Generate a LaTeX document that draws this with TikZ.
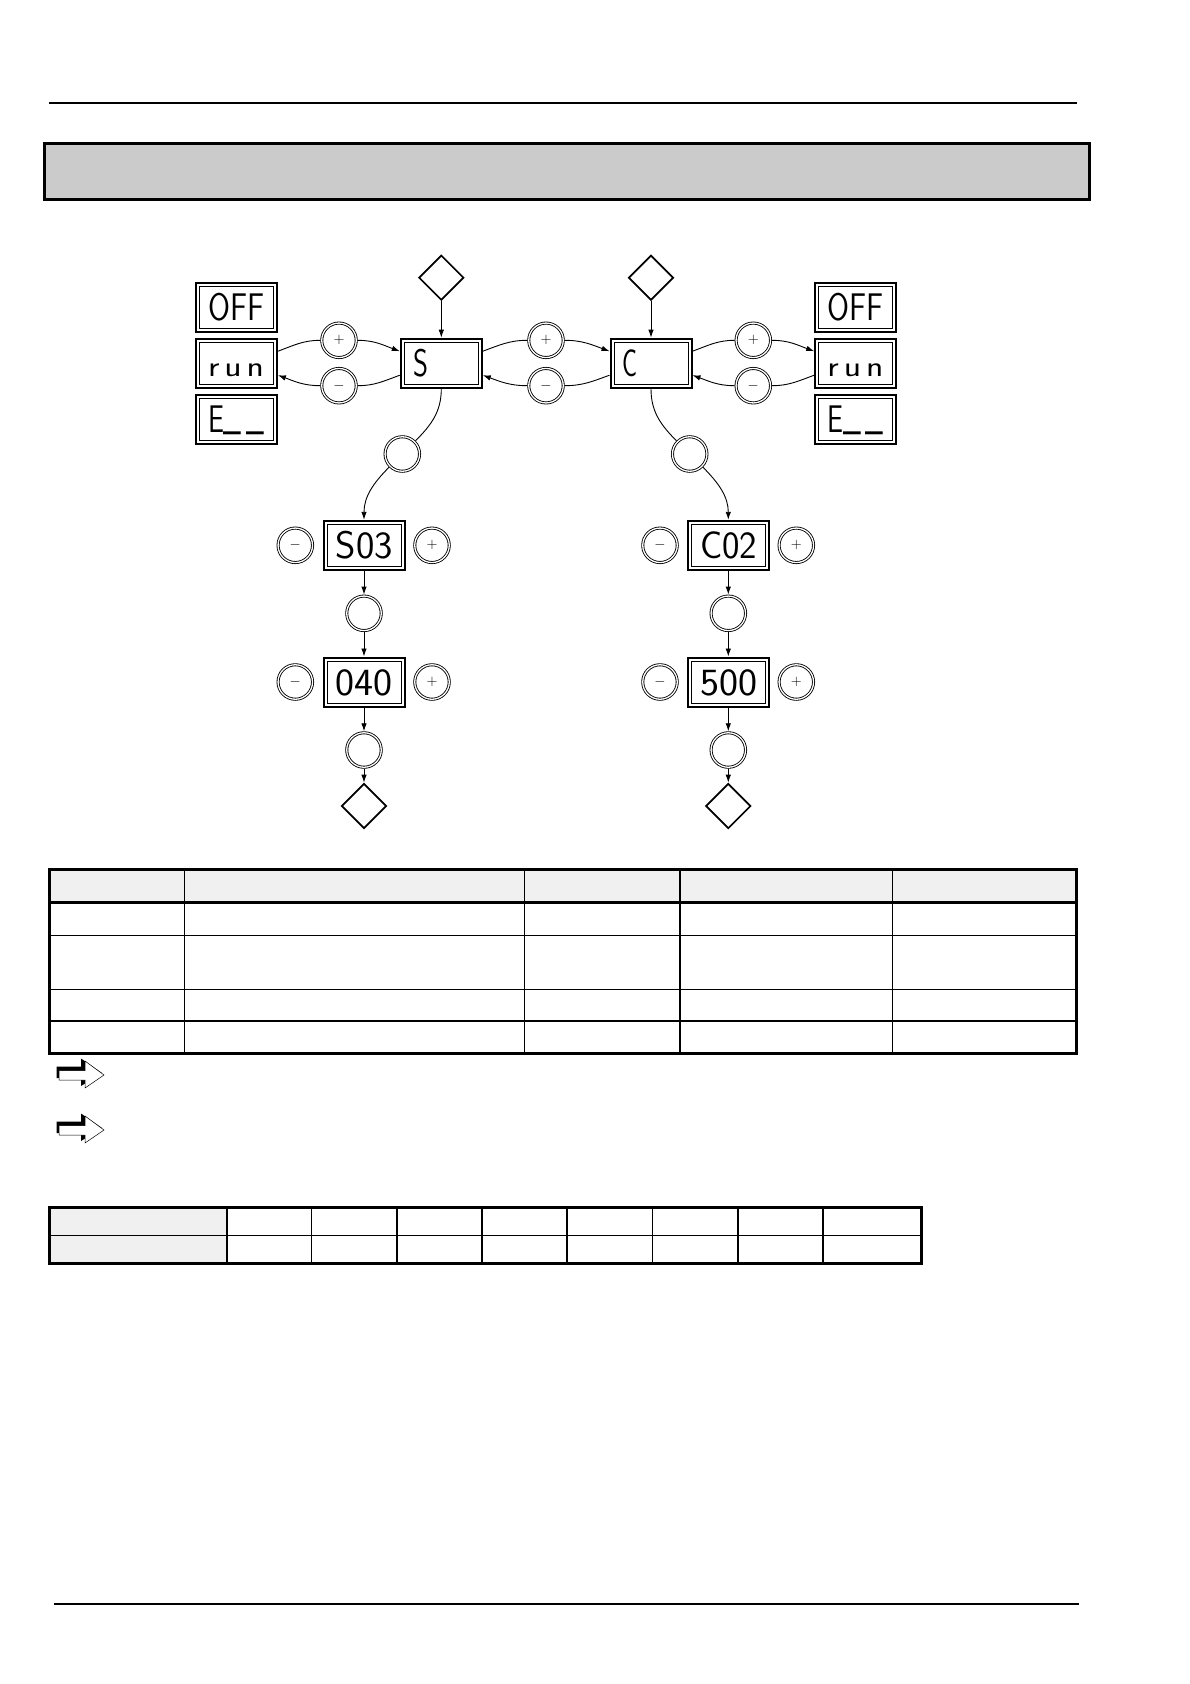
\documentclass[tikz,border=0pt]{standalone}
\usepackage{graphicx}
\usetikzlibrary{arrows.meta,shapes.geometric}

\definecolor{bannergray}{HTML}{CBCBCB}
\definecolor{headgray}{HTML}{F0F0F0}

\tikzset{
  lcdbox/.style={draw,line width=2pt,minimum width=81pt,minimum height=49pt,inner sep=0pt,outer sep=1pt},
  lcdtext/.style={anchor=base west,inner sep=0pt,font=\sffamily\fontsize{38.5}{38.5}\selectfont},
  keyring/.style={circle,draw,line width=0.85pt,double,double distance=1.3pt,minimum size=34.5pt,inner sep=0pt,outer sep=1.5pt,font=\fontsize{15}{15}\selectfont},
  gate/.style={diamond,draw,line width=1.7pt,minimum width=45pt,minimum height=45pt,inner sep=0pt,outer sep=0.85pt},
  conn/.style={line width=0.9pt},
  connarr/.style={conn,-{Latex[length=8pt,width=5.5pt]}},
}

\newcommand{\lcdshow}[2]{\resizebox{#1pt}{\height}{#2}}
\newcommand{\lowbar}{\raisebox{4.5pt}{\_\,\_}}
\newcommand{\lowrun}{\fontsize{29}{29}\selectfont r\hspace{4pt}u\hspace{4pt}n}

\begin{document}
\begin{tikzpicture}[x=1pt,y=-1pt]
  \useasboundingbox (0,0) rectangle (1190,1684);

  % Draw the page rules and the banner
  \draw[line width=1.7pt] (49,103) -- (1077,103);
  \draw[line width=1.9pt] (54,1604.3) -- (1079,1604.3);
  \draw[line width=3pt,fill=bannergray] (44.5,143.5) rectangle (1089.5,199.5);

  % Draw the displays
  \foreach \name/\px/\py/\wid/\txt in {
      offl/236.4/307.7/56/OFF, runl/236.4/363.2/56/\lowrun, errl/236.4/419.5/56/E\lowbar,
      offr/855.7/307.7/56/OFF, runr/855.7/363.2/56/\lowrun, errr/855.7/419.5/56/E\lowbar,
      sdisp/441.3/363.2/15/S, cdisp/651/363.2/15/C,
      sparam/364/545.3/57/S03, sval/364/682/57/040,
      cparam/728.3/545.3/57/C02, cval/728.3/682/57/500} {
    \node[lcdbox] (\name) at (\px,\py) {};
    \draw[line width=0.9pt] ([shift={(4.5,4.5)}]\name.north west) rectangle ([shift={(-4.5,-4.5)}]\name.south east);
    \node[lcdtext] (\name-t) at ([shift={(13,13)}]\name.west) {\lcdshow{\wid}{\txt}};
  }

  % Draw the keys
  \foreach \name/\px/\py/\sym in {
      plusl/339/340.3/$+$, minusl/339/385.7/$-$,
      plusm/546/340.3/$+$, minusm/546/385.7/$-$,
      plusr/753.3/340.3/$+$, minusr/753.3/385.7/$-$,
      spminus/295.3/545.3/$-$, spplus/432/545.3/$+$,
      svminus/295.3/682/$-$, svplus/432/682/$+$,
      cpminus/660/545.3/$-$, cpplus/796.3/545.3/$+$,
      cvminus/660/682/$-$, cvplus/796.3/682/$+$,
      senter/402.3/454/{}, center/689.7/454/{},
      sset/364/613.3/{}, sdone/364/750/{},
      cset/728.3/613.3/{}, cdone/728.3/750/{}} {
    \node[keyring] (\name) at (\px,\py) {\sym};
  }

  % Draw the diamonds
  \node[gate] (stop) at (441.3,277.7) {};
  \node[gate] (ctop) at (651,277.7) {};
  \node[gate] (send) at (364,806) {};
  \node[gate] (cend) at (728.3,806) {};

  % Draw the straight connectors
  \foreach \from/\to in {stop/sdisp, ctop/cdisp, sparam/sset, sset/sval, sval/sdone, sdone/send,
      cparam/cset, cset/cval, cval/cdone, cdone/cend} {
    \draw[connarr] (\from) -- (\to);
  }

  % Draw the side connectors
  \draw[conn] ([yshift=12pt]runl.east) to[out=20,in=180] (plusl.west);
  \draw[connarr] (plusl.east) to[out=0,in=160] ([yshift=12pt]sdisp.west);
  \draw[conn] ([yshift=-12pt]sdisp.west) to[out=200,in=0] (minusl.east);
  \draw[connarr] (minusl.west) to[out=180,in=-20] ([yshift=-12pt]runl.east);

  \draw[conn] ([yshift=12pt]sdisp.east) to[out=20,in=180] (plusm.west);
  \draw[connarr] (plusm.east) to[out=0,in=160] ([yshift=12pt]cdisp.west);
  \draw[conn] ([yshift=-12pt]cdisp.west) to[out=200,in=0] (minusm.east);
  \draw[connarr] (minusm.west) to[out=180,in=-20] ([yshift=-12pt]sdisp.east);

  \draw[conn] ([yshift=12pt]cdisp.east) to[out=20,in=180] (plusr.west);
  \draw[connarr] (plusr.east) to[out=0,in=160] ([yshift=12pt]runr.west);
  \draw[conn] ([yshift=-12pt]runr.west) to[out=200,in=0] (minusr.east);
  \draw[connarr] (minusr.west) to[out=180,in=-20] ([yshift=-12pt]cdisp.east);

  % Draw the curved connectors
  \draw[conn] (sdisp.south) to[out=-90,in=45] (senter.45);
  \draw[connarr] (senter.225) to[out=225,in=90] (sparam.north);
  \draw[conn] (cdisp.south) to[out=-90,in=135] (center.135);
  \draw[connarr] (center.-45) to[out=-45,in=90] (cparam.north);

  % Draw the first table
  \fill[headgray] (49.8,869.5) rectangle (1076,902.3);
  \foreach \ty/\tw in {935.3/1.2, 989.3/1.2, 1020.7/1.7} {
    \draw[line width=\tw pt] (49.8,\ty) -- (1076,\ty);
  }
  \foreach \tx/\tw in {184.7/1.2, 524.5/1.2, 680/1.2, 892.5/1.8} {
    \draw[line width=\tw pt] (\tx,869.5) -- (\tx,1053.3);
  }
  \draw[line width=2.6pt] (49.8,902.3) -- (1076,902.3);
  \draw[line width=3pt] (49.8,869.5) rectangle (1076,1053.3);

  % Draw the hollow arrows
  \foreach \arrowy in {1075,1130} {
    \begin{scope}[shift={(0,\arrowy)}]
      \fill[black] (56.5,-8.3) -- (81,-8.3) -- (81,-16.5) -- (102,-2) -- (81,11) -- (81,3) -- (56.5,3) -- cycle;
      \draw[fill=white,line width=0.5pt] (59,-4.5) -- (85,-4.5) -- (85,-14) -- (104,0) -- (85,13) -- (85,5) -- (59,5) -- cycle;
    \end{scope}
  }

  % Draw the second table
  \fill[headgray] (49.8,1207.3) rectangle (227,1263.3);
  \draw[line width=1.2pt] (49.8,1235.3) -- (921,1235.3);
  \foreach \tx/\tw in {227/2.2, 311.5/1.2, 396.8/2.2, 482/2.2, 567/2.2, 652.5/1.2, 738/1.2, 823/1.2} {
    \draw[line width=\tw pt] (\tx,1207.3) -- (\tx,1263.3);
  }
  \draw[line width=3pt] (49.8,1207.3) rectangle (921,1263.3);
\end{tikzpicture}
\end{document}
